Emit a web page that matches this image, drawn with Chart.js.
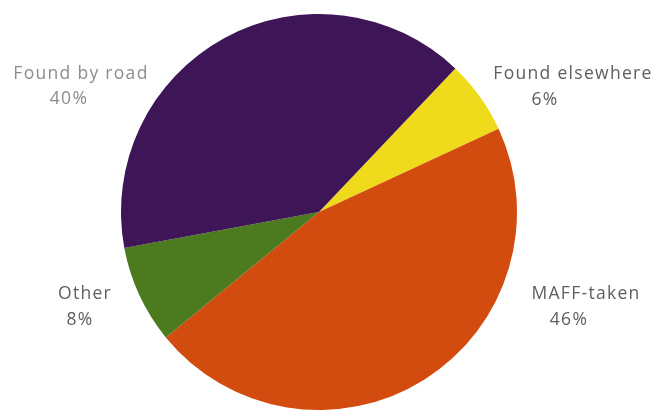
<!DOCTYPE html>
<html>
<head>
<meta charset="utf-8">
<script src="https://cdn.jsdelivr.net/npm/chart.js@4"></script>
<style>
  html, body { margin: 0; padding: 0; background: #ffffff; }
  #wrap { width: 653px; height: 412px; }
</style>
</head>
<body>
<div id="wrap"><canvas id="pieChart" width="653" height="412"></canvas></div>
<script>
// data
const categories = ["Found elsewhere", "MAFF-taken", "Other", "Found by road"];
const shares = [6, 46, 8, 40];
const sliceColors = ["#efdb1c", "#d24c10", "#4b7a1f", "#3e1657"];

// label text placement (centre of each text block)
const labelSpots = [
  { x: 573, y: 74, px: 545, py: 100, color: "#5e5e5e" },
  { x: 586, y: 294, px: 569, py: 320, color: "#5e5e5e" },
  { x: 85, y: 294, px: 80, py: 320, color: "#5e5e5e" },
  { x: 81, y: 74, px: 69, py: 99, color: "#8c8c8c" }
];

const outsideLabels = {
  id: "outsideLabels",
  afterDraw(chart) {
    const ctx = chart.ctx;
    ctx.save();
    ctx.font = "17.5px 'Open Sans'";
    ctx.letterSpacing = "1.3px";
    ctx.textAlign = "center";
    ctx.textBaseline = "middle";
    categories.forEach((name, i) => {
      const s = labelSpots[i];
      ctx.fillStyle = s.color;
      ctx.fillText(name, s.x, s.y);
      ctx.fillText(shares[i] + "%", s.px, s.py);
    });
    ctx.restore();
  }
};

const pieChart = document.getElementById("pieChart");

if (pieChart) {
  new Chart(pieChart, {
    type: "pie",
    data: {
      labels: categories,
      datasets: [
        {
          data: shares,
          backgroundColor: sliceColors,
          borderWidth: 0
        }
      ]
    },
    options: {
      responsive: false,
      animation: false,
      rotation: 43.5,
      layout: { padding: { left: 121, right: 136, top: 14, bottom: 2 } },
      plugins: {
        legend: { display: false },
        tooltip: { enabled: false }
      }
    },
    plugins: [outsideLabels]
  });
}
</script>
</body>
</html>
